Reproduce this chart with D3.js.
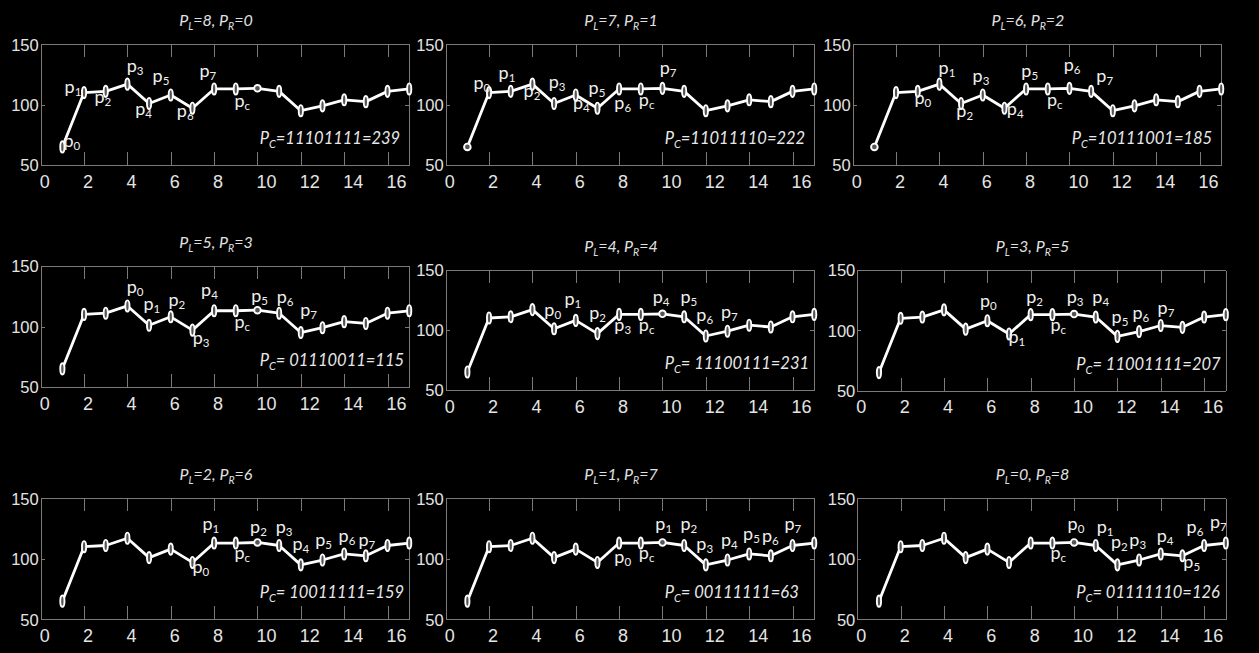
<!DOCTYPE html>
<html>
<head>
<meta charset="utf-8">
<script src="https://cdn.jsdelivr.net/npm/d3@7"></script>
<style>
  body { margin: 0; background: #000; }
  svg { display: block; }
  .axis path, .axis line { stroke: #7a7a7a; stroke-width: 1; shape-rendering: crispEdges; }
  .axis text { fill: #e4e4e4; font-family: "Liberation Sans", Arial, sans-serif; }
</style>
</head>
<body>
<svg id="chart" width="1259" height="653"></svg>
<script>
// sample index and signal value (same curve in every panel)
const sampleIdx = [1, 2, 3, 4, 5, 6, 7, 8, 9, 10, 11, 12, 13, 14, 15, 16, 17];
const signal = [65, 110, 111, 117, 101, 108, 97, 113, 113, 113.5, 111, 95, 99, 104, 102.5, 111, 113];

const xTicks = [0, 2, 4, 6, 8, 10, 12, 14, 16];
const yTicks = [50, 100, 150];

const pL = [8, 7, 6, 5, 4, 3, 2, 1, 0];
const pR = [0, 1, 2, 3, 4, 5, 6, 7, 8];
const codes = ["=11101111", "=11011110", "=10111001", "= 01110011", "= 11100111",
               "= 11001111", "= 10011111", "= 00111111", "= 01111110"];
const codeValues = [239, 222, 185, 115, 231, 207, 159, 63, 126];
const circleAt = [10, 1, 1, 10, 10, 10, 10, 10, 10];

// labels p0..p7, pc  (text position in data units, per panel)
const labelNames = ["0", "1", "2", "3", "4", "5", "6", "7", "c"];
const labelXY = [
  [[1.12,65.2],[1.17,109.9],[2.55,101.6],[4.04,127.3],[4.43,91.4],[5.23,119],[6.35,90],[7.39,122.7],[9.01,98.3]],
  [[1.35,112.7],[2.51,121],[3.66,106.6],[4.82,114],[5.94,96.1],[6.66,108.6],[7.85,96.1],[9.94,125.4],[8.98,98.9]],
  [[2.92,100.5],[4.03,125.4],[4.85,90],[5.6,119],[7.18,91.4],[7.85,122.7],[9.8,128.1],[11.31,119],[9.03,98.9]],
  [[4.04,127.4],[4.81,113.6],[5.96,116.9],[7.08,85.5],[7.47,125.2],[9.78,120.5],[10.96,119.2],[12.04,108.7],[9.01,98.5]],
  [[4.62,111.7],[5.55,120.8],[6.69,108.9],[7.85,99.2],[9.62,122.8],[10.9,122.2],[11.63,107.8],[12.77,109.7],[8.98,99.2]],
  [[5.73,119.1],[7.04,89.8],[7.86,122.9],[9.73,122.4],[10.91,122.4],[11.8,106.3],[12.76,109.2],[13.92,113.3],[8.98,99.5]],
  [[7.07,88.5],[7.53,123.8],[9.73,121.6],[10.91,121.6],[11.68,107.3],[12.73,110.6],[13.81,114.1],[14.73,110.6],[9.01,99.6]],
  [[7.85,96.8],[9.74,123.8],[10.9,123.8],[11.63,107.3],[12.77,110.6],[13.79,115.5],[14.66,114.1],[15.7,123.8],[8.98,99.6]],
  [[9.77,123.8],[11.11,121.6],[11.77,108.7],[12.62,110.6],[13.88,114.1],[15.11,92.1],[15.26,121.6],[16.34,125.2],[8.98,99.6]]
];

// axes placement
const panelW = 368.5;
const layout = [
  {left: 40.7, top: 44.3, bottom: 165},
  {left: 445.7, top: 44.3, bottom: 165},
  {left: 852.7, top: 44.3, bottom: 165},
  {left: 40.7, top: 266, bottom: 387},
  {left: 445.7, top: 270, bottom: 390},
  {left: 857.3, top: 270, bottom: 390.7},
  {left: 40.7, top: 498.3, bottom: 619.3},
  {left: 445.7, top: 498.3, bottom: 619.3},
  {left: 857.3, top: 498.3, bottom: 619.3}
];

const svg = d3.select("#chart");
svg.append("rect").attr("width", 1259).attr("height", 653).attr("fill", "#000");

const textFont = "Lato, 'Open Sans', sans-serif";

layout.forEach((L, k) => {
  const x = d3.scaleLinear().domain([0, 17]).range([L.left, L.left + panelW]);
  const y = d3.scaleLinear().domain([50, 150]).range([L.bottom, L.top]);
  const g = svg.append("g");

  // box + ticks
  g.append("g").attr("class", "axis")
    .attr("transform", `translate(0,${L.bottom})`)
    .call(d3.axisBottom(x).tickValues(xTicks).tickSize(-13).tickSizeOuter(0).tickPadding(10))
    .call(a => a.selectAll("text")
      .attr("text-anchor", "start").attr("x", -1.5)
      .style("font-size", "18px"));
  g.append("g").attr("class", "axis")
    .attr("transform", `translate(0,${L.top})`)
    .call(d3.axisTop(x).tickValues(xTicks).tickSize(-13).tickSizeOuter(0).tickFormat(""));
  g.append("g").attr("class", "axis")
    .attr("transform", `translate(${L.left},0)`)
    .call(d3.axisLeft(y).tickValues(yTicks).tickSize(-4).tickSizeOuter(0).tickPadding(2))
    .call(a => a.selectAll("text").style("font-size", "16.5px").attr("dy", "0.36em"));
  g.append("g").attr("class", "axis")
    .attr("transform", `translate(${L.left + panelW},0)`)
    .call(d3.axisRight(y).tickValues(yTicks).tickSize(-4).tickSizeOuter(0).tickFormat(""));

  // curve
  const line = d3.line()
    .x((d, i) => x(sampleIdx[i]))
    .y(d => y(d));
  g.append("path").datum(signal)
    .attr("d", line)
    .attr("fill", "none")
    .attr("stroke", "#fff")
    .attr("stroke-width", 2.8)
    .attr("stroke-linejoin", "round");

  // markers
  g.selectAll(".mk").data(signal).enter()
    .append("ellipse")
    .attr("cx", (d, i) => x(sampleIdx[i]))
    .attr("cy", d => y(d))
    .attr("rx", (d, i) => sampleIdx[i] === circleAt[k] ? 3.3 : 2.1)
    .attr("ry", (d, i) => sampleIdx[i] === circleAt[k] ? 3.3 : 5.6)
    .attr("fill", "#555")
    .attr("stroke", "#fff")
    .attr("stroke-width", 1.9);

  // point labels
  labelXY[k].forEach((p, j) => {
    const t = g.append("text")
      .attr("x", x(p[0]) - 1.5)
      .attr("y", y(p[1]))
      .attr("fill", "#f0f0f0")
      .style("font-family", textFont)
      .style("font-size", "18px")
      .text("p");
    t.append("tspan").attr("dy", 3).style("font-size", "11.5px").text(labelNames[j]);
  });

  // title
  const title = g.append("text")
    .attr("x", L.left + panelW / 2 - 9)
    .attr("y", L.top - 18)
    .attr("text-anchor", "middle")
    .attr("fill", "#e0e0e0")
    .style("font-family", textFont)
    .style("font-style", "italic")
    .style("font-size", "16px");
  title.append("tspan").text("P");
  title.append("tspan").attr("dy", 4).style("font-size", "10.5px").text("L");
  title.append("tspan").attr("dy", -4).text(`=${pL[k]}, P`);
  title.append("tspan").attr("dy", 4).style("font-size", "10.5px").text("R");
  title.append("tspan").attr("dy", -4).text(`=${pR[k]}`);

  // code annotation
  const ann = g.append("text")
    .attr("x", x(10.1))
    .attr("y", L.bottom - 21)
    .attr("fill", "#e8e8e8")
    .style("font-family", textFont)
    .style("font-style", "italic")
    .style("font-size", "16.5px");
  ann.append("tspan").text("P");
  ann.append("tspan").attr("dy", 4).style("font-size", "11px").text("C");
  ann.append("tspan").attr("dy", -4).text(`${codes[k]}=${codeValues[k]}`);
});
</script>
</body>
</html>
